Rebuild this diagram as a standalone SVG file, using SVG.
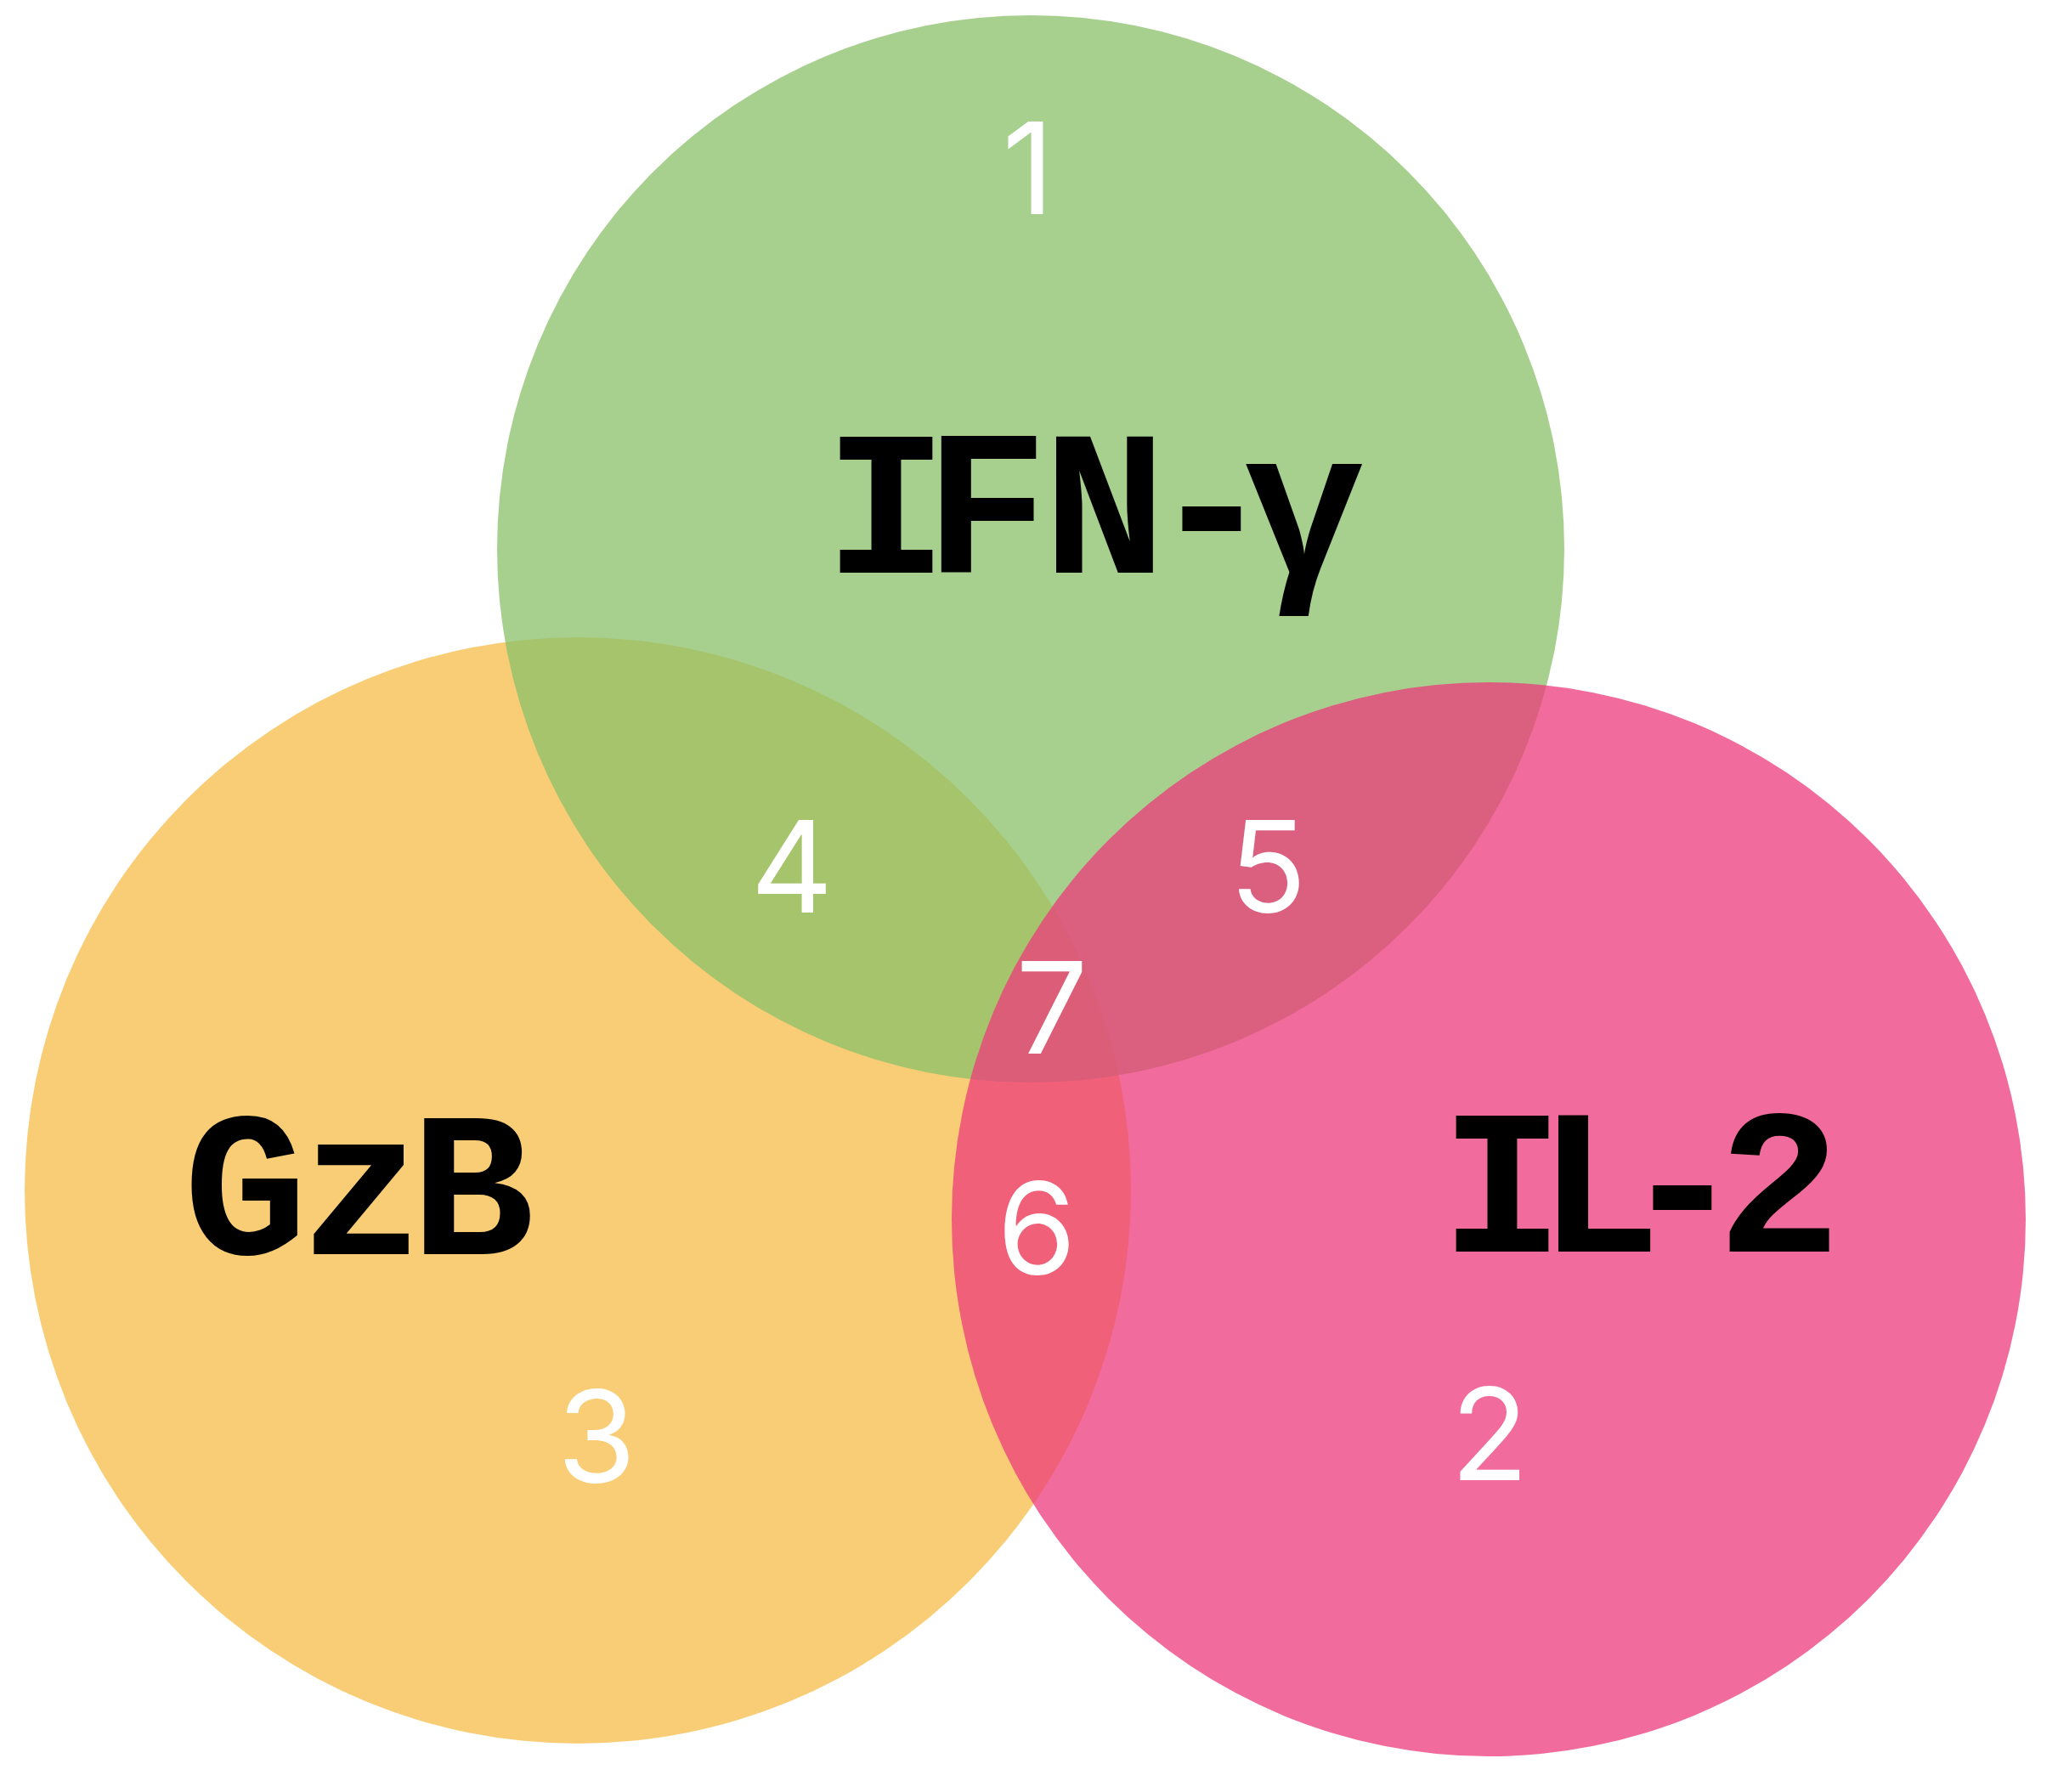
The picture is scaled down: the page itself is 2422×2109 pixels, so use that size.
<svg xmlns="http://www.w3.org/2000/svg" width="2422" height="2109" viewBox="0 0 2422 2109">
  <style>
    .set { opacity: 0.75; }
    .name { font-family: "Liberation Mono", "DejaVu Sans Mono", monospace; font-weight: bold; font-size: 243px; fill: #000000; text-anchor: middle; }
    .num { font-family: Inter, "Liberation Sans", sans-serif; font-size: 150px; fill: #ffffff; text-anchor: middle; }
  </style>
  <rect x="0" y="0" width="2422" height="2109" fill="#ffffff"/>
  <g id="set-gzb">
    <circle class="set" cx="680" cy="1401" r="651" fill="#F7BC48"/>
    <text class="name" x="289 426 556" y="1476">GzB</text>
  </g>
  <g id="set-ifng">
    <circle class="set" cx="1213" cy="646" r="628" fill="#8AC06A"/>
    <text class="name" x="1043 1161 1300 1426 1535" y="674">IFN-γ</text>
  </g>
  <g id="set-il2">
    <circle class="set" cx="1752" cy="1435" r="632" fill="#EC3B7B"/>
    <text class="name" x="1768 1882 1980 2094" y="1473">IL-2</text>
  </g>
  <g id="connectors"></g>
  <g id="regions">
    <text class="num" x="1210" y="252">1</text>
    <text class="num" x="1753" y="1742">2</text>
    <text class="num" x="702" y="1745">3</text>
    <text class="num" x="932" y="1074">4</text>
    <text class="num" x="1492" y="1074">5</text>
    <text class="num" x="1220" y="1500">6</text>
    <text class="num" x="1238" y="1240">7</text>
  </g>
</svg>
